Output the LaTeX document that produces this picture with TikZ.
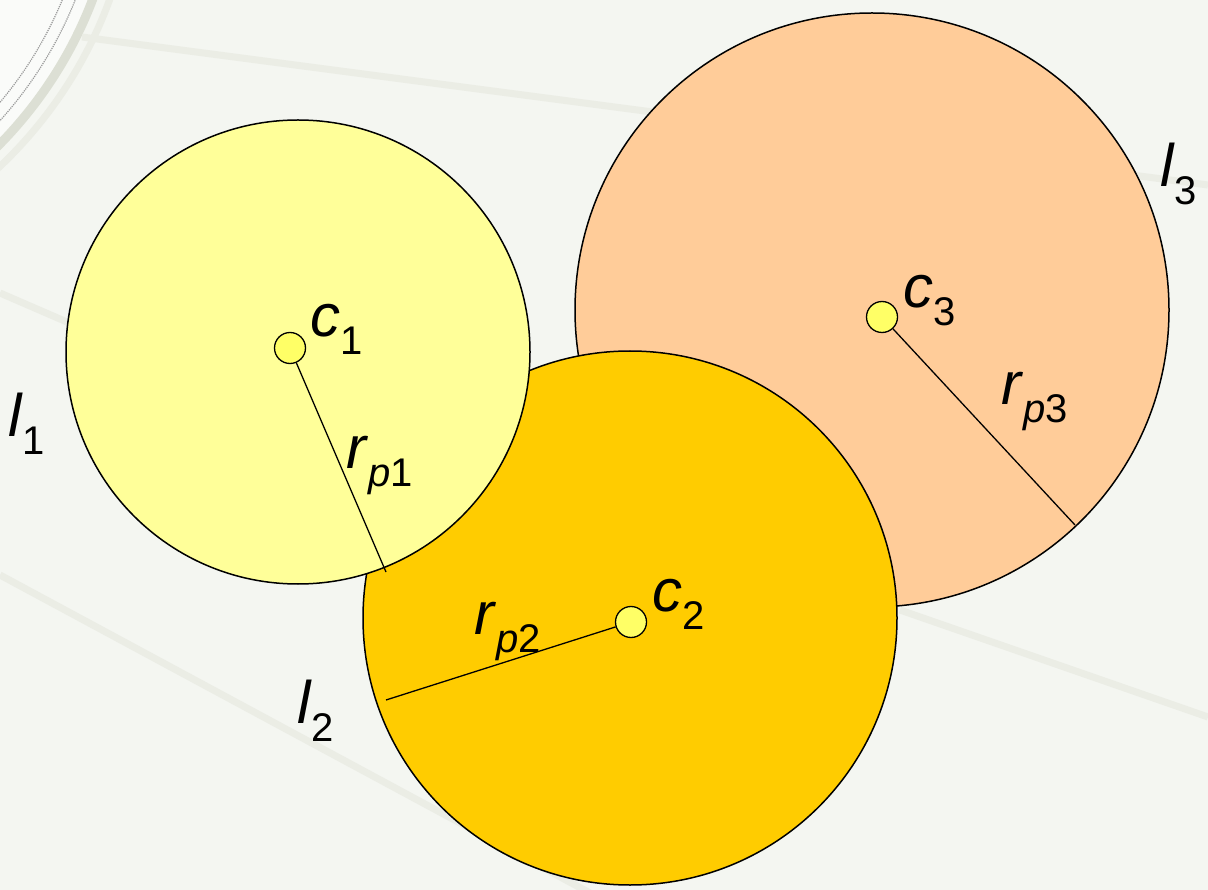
\documentclass[tikz,border=0pt]{standalone}
\usepackage{fontspec}
\setmainfont{Liberation Sans}
\definecolor{bgcol}{HTML}{F4F6F1}
\definecolor{bandcol}{HTML}{EBEDE5}
\definecolor{arccol}{HTML}{DCDFD4}
\definecolor{cornercol}{HTML}{FAFBF9}
\definecolor{lemon}{HTML}{FFFF99}
\definecolor{gold}{HTML}{FFCC00}
\definecolor{peach}{HTML}{FFCC99}
\definecolor{dotyellow}{HTML}{FFFF66}
\newcommand{\sublab}[2]{\textit{#1}\raisebox{-18pt}{\fontsize{40}{40}\selectfont #2}}
\tikzset{
  band/.style = {bandcol, line width = 7pt},
  disc/.style = {draw, line width = 1.5pt},
  dot/.style = {circle, draw, line width = 1.3pt, fill = dotyellow, minimum size = 31pt, inner sep = 0pt},
  lab/.style = {anchor = base west, inner sep = 0pt, font = \fontsize{60}{60}\selectfont}
}
\begin{document}
\begin{tikzpicture}[x = 1pt, y = -1pt]
      \fill [bgcol] (0,0) rectangle (1208,890);
      \useasboundingbox (0,0) rectangle (1208,890);
      % faint slide background
      \fill [cornercol] (-300,-150) circle (420);
      \draw [densely dotted, gray!80, line width = 1.2pt] (-300,-150) circle (392) (-300,-150) circle (404);
      \draw [arccol, line width = 9pt] (-300,-150) circle (420);
      \draw [band] (-300,-150) circle (436);
      \draw [band] (82,37) -- (1208,185);
      \draw [band] (0,293) -- (120,345);
      \draw [band] (0,575) -- (590,893);
      \draw [band] (900,610) -- (1208,717);
      % the three circles
      \filldraw [disc, fill = peach] (872,310) circle (297);
      \filldraw [disc, fill = gold] (630,618) circle (267);
      \filldraw [disc, fill = lemon] (298,352) circle (232);
      \node [dot] (c1) at (290,348) {};
      \node [dot] (c2) at (631,622) {};
      \node [dot] (c3) at (882,317) {};
      \coordinate (p1) at (386,572);
      \coordinate (p2) at (386,700);
      \coordinate (p3) at (1075,525);
      \draw [line width = 1.3pt] (c1) -- (p1);
      \draw [line width = 1.3pt] (c2) -- (p2);
      \draw [line width = 1.3pt] (c3) -- (p3);
      \node [lab] (tc1) at (310,337) {\sublab{c}{1}};
      \node [lab] (tc2) at (652,611) {\sublab{c}{2}};
      \node [lab] (tc3) at (903,308) {\sublab{c}{3}};
      \node [lab] (tr1) at (346,468) {\sublab{r}{\textit{p}1}};
      \node [lab] (tr2) at (474,634) {\sublab{r}{\textit{p}2}};
      \node [lab] (tr3) at (1001,405) {\sublab{r}{\textit{p}3}};
      \node [lab] (tl1) at (8,437) {\sublab{l}{1}};
      \node [lab] (tl2) at (297,723) {\sublab{l}{2}};
      \node [lab] (tl3) at (1160,187) {\sublab{l}{3}};
    \end{tikzpicture}
\end{document}
